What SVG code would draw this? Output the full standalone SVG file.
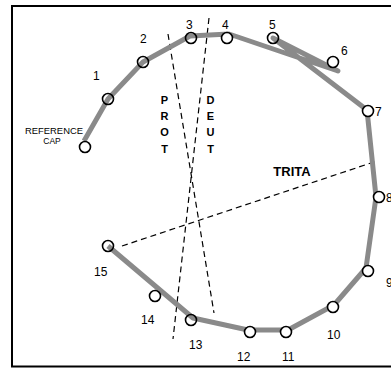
<svg xmlns="http://www.w3.org/2000/svg" width="391" height="368" viewBox="0 0 391 368">
<style>
.cap{fill:#fff;stroke:#000;stroke-width:1.6}
.capn{fill:none;stroke:#000;stroke-width:1.6}
.num{font-family:"Liberation Sans",Arial,sans-serif;font-size:12px;fill:#000}
.axis{fill:none;stroke:#000;stroke-width:1.2;stroke-dasharray:6,4}
.axl{font-family:"Liberation Sans",Arial,sans-serif;font-size:11px;font-weight:bold;fill:#000;text-anchor:middle}
.path{fill:none;stroke:#8a8a8a;stroke-width:5;stroke-linejoin:round;stroke-linecap:butt}
</style>
<rect x="0" y="0" width="391" height="368" fill="#fff"/>
<rect x="12" y="6" width="400" height="360.5" fill="none" stroke="#000" stroke-width="2"/>
<g id="axes">
<line class="axis" x1="168" y1="34" x2="214" y2="313"/>
<line class="axis" x1="209" y1="18" x2="173" y2="339"/>
<line class="axis" x1="122" y1="246" x2="377" y2="161"/>
<text class="axl" x="164.5" y="104">P</text>
<text class="axl" x="164.5" y="120">R</text>
<text class="axl" x="164.5" y="136">O</text>
<text class="axl" x="164.5" y="153">T</text>
<text class="axl" x="210.5" y="104">D</text>
<text class="axl" x="210.5" y="120">E</text>
<text class="axl" x="210.5" y="136">U</text>
<text class="axl" x="210.5" y="153">T</text>
<text class="axl" x="292" y="176" style="font-size:13px">TRITA</text>
</g>
<g id="connectors">
<polyline class="path" points="84,141 108,99 143,62 190,36 229,34 338,71 273,38 367,110 376,197 366,268 334,305 288,330 248,330 193,318 108,246"/>
</g>
<g id="ref"><circle class="cap" cx="85" cy="147" r="5.5"/>
<text class="num" x="54" y="134" text-anchor="middle" style="font-size:8.5px" textLength="58" lengthAdjust="spacingAndGlyphs">REFERENCE</text>
<text class="num" x="52" y="144" text-anchor="middle" style="font-size:8.5px">CAP</text></g>
<g id="cap1"><circle class="capn" cx="108" cy="99" r="5.5"/><text class="num" x="93" y="80">1</text></g>
<g id="cap2"><circle class="capn" cx="143" cy="62" r="5.5"/><text class="num" x="140" y="43">2</text></g>
<g id="cap3"><circle class="capn" cx="191" cy="38" r="5.5"/><text class="num" x="186" y="29">3</text></g>
<g id="cap4"><circle class="cap" cx="227" cy="38" r="5.5"/><text class="num" x="222" y="29">4</text></g>
<g id="cap5"><circle class="capn" cx="273" cy="38" r="5.5"/><text class="num" x="269" y="29">5</text></g>
<g id="cap6"><circle class="cap" cx="333" cy="62" r="5.5"/><text class="num" x="341" y="55">6</text></g>
<g id="cap7"><circle class="cap" cx="368" cy="111" r="5.5"/><text class="num" x="375" y="116">7</text></g>
<g id="cap8"><circle class="cap" cx="379" cy="197" r="5.5"/><text class="num" x="386" y="202">8</text></g>
<g id="cap9"><circle class="cap" cx="368" cy="271" r="5.5"/><text class="num" x="386" y="287">9</text></g>
<g id="cap10"><circle class="cap" cx="333" cy="307" r="5.5"/><text class="num" x="327" y="339">10</text></g>
<g id="cap11"><circle class="cap" cx="286" cy="332" r="5.5"/><text class="num" x="282" y="361">11</text></g>
<g id="cap12"><circle class="cap" cx="250" cy="332" r="5.5"/><text class="num" x="237" y="361">12</text></g>
<g id="cap13"><circle class="capn" cx="191" cy="320" r="5.5"/><text class="num" x="189" y="349">13</text></g>
<g id="cap14"><circle class="cap" cx="155" cy="296" r="5.5"/><text class="num" x="141" y="324">14</text></g>
<g id="cap15"><circle class="capn" cx="108" cy="246" r="5.5"/><text class="num" x="94" y="276">15</text></g>
</svg>
